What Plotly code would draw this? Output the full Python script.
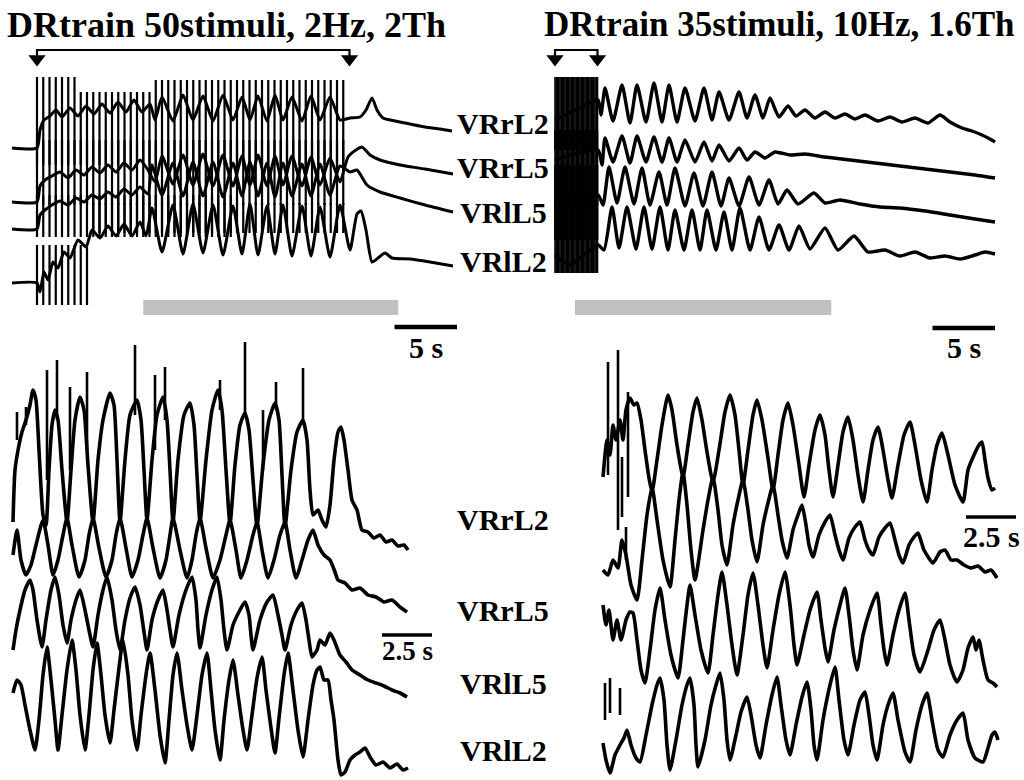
import plotly.graph_objects as go

# ---------------------------------------------------------------------------
# Ventral-root recordings: (time [s], amplitude [a.u.]) pairs.
# Amplitudes are relative to each trace's own resting level.
# ---------------------------------------------------------------------------

# Train 1: 50 stimuli at 2 Hz (overview)
tl_rl2 = [(-2.0, 0), (0.0, 0), (0.24, 18), (0.56, 28), (1.04, 32), (1.52, 38), (2.0, 31), (2.64, 40),
          (3.28, 32), (3.92, 42), (4.56, 34), (5.2, 44), (5.84, 35), (6.48, 46), (7.12, 36), (7.76, 48),
          (8.4, 36), (9.04, 44), (9.44, 28), (10.0, 51), (10.88, 27), (11.68, 53), (12.48, 28), (13.28, 52),
          (14.08, 27), (14.88, 53), (15.68, 28), (16.4, 51), (17.04, 28), (17.68, 52), (18.4, 27), (19.04, 53),
          (19.68, 28), (20.4, 51), (21.2, 27), (21.92, 52), (22.64, 28), (23.44, 51), (24.24, 28), (25.04, 30),
          (25.84, 31), (26.32, 38), (26.8, 50), (27.2, 38), (27.68, 30), (28.64, 27), (29.84, 24), (31.04, 21),
          (32.24, 19), (33.2, 17)]
tl_rl5 = [(-2.0, 0), (0.0, 0), (0.24, 16), (0.64, 22), (1.2, 26), (1.84, 30), (2.48, 24), (3.12, 32),
          (3.76, 27), (4.4, 35), (5.04, 29), (5.68, 37), (6.32, 30), (6.96, 39), (7.6, 32), (8.24, 42),
          (8.88, 32), (9.44, 20), (10.0, 46), (10.88, 18), (11.68, 47), (12.48, 17), (13.28, 48), (14.08, 16),
          (14.88, 47), (15.68, 16), (16.4, 46), (17.04, 17), (17.68, 47), (18.4, 16), (19.04, 46), (19.68, 17),
          (20.4, 46), (21.2, 16), (21.92, 45), (22.64, 17), (23.44, 44), (24.24, 20), (24.88, 45), (25.52, 52),
          (26.0, 55), (26.64, 47), (27.44, 42), (29.04, 37), (31.04, 33), (33.28, 28)]
tl_ll5 = [(-2.0, 0), (0.0, 0), (0.24, 14), (0.64, 19), (1.2, 24), (1.84, 28), (2.48, 24), (3.12, 31),
          (3.76, 27), (4.4, 34), (5.04, 30), (5.68, 37), (6.32, 32), (6.96, 40), (7.6, 34), (8.24, 42),
          (8.88, 35), (9.2, 64), (10.0, 34), (10.88, 66), (11.68, 33), (12.48, 67), (13.28, 33), (14.08, 67),
          (14.88, 32), (15.68, 66), (16.4, 33), (17.04, 67), (17.68, 33), (18.4, 66), (19.04, 32), (19.68, 66),
          (20.4, 33), (21.2, 65), (21.92, 33), (22.64, 65), (23.44, 34), (24.24, 63), (25.04, 57), (25.6, 59),
          (26.4, 44), (27.44, 37), (29.04, 31), (31.04, 24), (33.28, 17)]
tl_ll2 = [(-2.0, 0), (0.0, 0), (0.24, -9), (0.56, 11), (0.88, 3), (1.28, 21), (1.68, 15), (2.16, 31),
          (2.64, 25), (3.28, 43), (3.92, 36), (4.4, 53), (5.04, 45), (5.68, 57), (6.32, 47), (6.96, 59),
          (7.6, 47), (8.24, 61), (8.72, 47), (9.2, 75), (10.0, 31), (10.88, 78), (11.68, 29), (12.48, 79),
          (13.28, 30), (14.08, 78), (14.88, 28), (15.68, 77), (16.4, 29), (17.04, 79), (17.68, 28), (18.4, 77),
          (19.04, 29), (19.68, 78), (20.4, 27), (21.2, 77), (21.92, 27), (22.64, 76), (23.44, 26), (24.24, 78),
          (25.04, 33), (25.6, 69), (25.92, 72), (26.32, 53), (26.8, 21), (27.28, 25), (27.84, 30), (28.4, 25),
          (29.84, 24), (31.44, 21), (33.28, 17)]

# Train 2: 35 stimuli at 10 Hz (overview)
tr_rl2 = [(0.0, 0), (1.6, 10), (3.44, 20), (3.68, 5), (4.0, 32), (4.64, -1), (5.36, 35), (6.0, -3),
          (6.56, 35), (7.28, -2), (7.92, 37), (8.56, -2), (9.12, 35), (9.76, -2), (10.4, 32), (11.2, -1),
          (11.92, 32), (12.56, 0), (13.12, 28), (13.92, 0), (14.72, 28), (15.36, 2), (16.0, 25), (16.64, 2),
          (17.2, 22), (17.92, 3), (18.64, 14), (19.28, 4), (20.0, 10), (20.8, 2), (21.6, 8), (22.4, 2),
          (23.2, 6), (24.0, 1), (24.8, 5), (25.84, -1), (26.8, 3), (27.76, -2), (28.8, 2), (29.84, -3),
          (30.8, 5), (31.6, -2), (32.56, -8), (33.36, -11), (34.16, -15), (34.8, -19), (35.2, -22)]
tr_rl5 = [(0.0, 0), (3.44, 10), (3.76, -5), (4.0, 22), (4.64, -2), (5.36, 24), (6.0, -3), (6.56, 24),
          (7.28, -2), (7.92, 23), (8.56, -2), (9.12, 22), (9.76, -2), (10.4, 20), (11.2, -2), (11.92, 18),
          (12.56, -1), (13.12, 15), (13.92, -1), (14.72, 12), (15.36, 0), (16.0, 8), (16.8, 2), (17.6, 8),
          (18.8, 5), (20.0, 6), (21.6, 3), (23.6, 0), (25.6, -3), (27.6, -6), (29.6, -9), (31.6, -12),
          (33.6, -15), (35.2, -18)]
tr_ll5 = [(0.0, 0), (3.44, 5), (3.84, -5), (4.32, 33), (4.96, -3), (5.6, 33), (6.32, -4), (6.96, 32),
          (7.6, -5), (8.32, 28), (8.96, -5), (9.6, 32), (10.4, -6), (11.12, 27), (11.84, -6), (12.56, 28),
          (13.28, -6), (13.92, 22), (14.72, -6), (15.52, 23), (16.32, -5), (17.12, 20), (17.84, -4),
          (18.56, 10), (19.44, -4), (20.72, 7), (21.6, -3), (22.8, 0), (24.4, -4), (26.0, -7), (27.6, -8),
          (29.6, -11), (31.6, -15), (33.6, -19), (35.2, -22)]
tr_ll2 = [(0.0, 0), (1.2, -10), (3.44, 10), (3.92, 5), (4.56, 48), (5.12, 7), (5.76, 48), (6.48, 6),
          (7.12, 48), (7.76, 6), (8.4, 48), (9.04, 5), (9.6, 45), (10.32, 5), (10.96, 45), (11.6, 5),
          (12.16, 45), (12.88, 5), (13.52, 43), (14.16, 5), (14.8, 47), (15.6, 5), (16.32, 38), (17.12, 5),
          (17.92, 30), (18.72, 5), (19.52, 29), (20.4, 6), (21.6, 27), (22.64, 5), (23.92, 19), (25.04, 3),
          (26.4, 5), (27.6, -1), (28.8, 3), (30.0, -3), (31.2, -1), (32.4, -4), (33.6, 0), (34.4, 3), (35.2, 1)]

# Train 1, expanded window
bl_rl2 = [(0.05, -2), (0.15, 50), (0.35, 75), (0.5, 88), (0.7, 100), (0.9, 115), (1.05, 130), (1.2, 120),
          (1.35, 70), (1.55, 5), (1.7, -5), (1.85, 50), (2.0, 95), (2.15, 110), (2.3, 100), (2.5, 50),
          (2.75, -2), (2.95, 50), (3.15, 100), (3.4, 123), (3.6, 110), (3.8, 55), (4.05, -2), (4.3, 60),
          (4.55, 100), (4.9, 127), (5.1, 115), (5.25, 60), (5.4, -2), (5.65, 60), (5.9, 105), (6.25, 120),
          (6.45, 100), (6.6, 50), (6.75, 0), (7.0, 60), (7.25, 105), (7.55, 123), (7.75, 100), (7.9, 50),
          (8.05, -2), (8.3, 60), (8.6, 105), (8.9, 117), (9.1, 95), (9.25, 45), (9.4, -2), (9.7, 60),
          (10.0, 110), (10.3, 130), (10.5, 110), (10.7, 50), (10.9, -4), (11.15, 55), (11.4, 95), (11.65, 107),
          (11.85, 90), (12.05, 40), (12.25, -6), (12.55, 55), (12.85, 100), (13.15, 117), (13.35, 100),
          (13.5, 45), (13.65, -7), (13.95, 50), (14.25, 88), (14.55, 100), (14.75, 80), (14.9, 30), (15.05, 5),
          (15.3, 10), (15.5, 0), (15.7, -7), (15.9, 15), (16.1, 60), (16.3, 88), (16.45, 93), (16.6, 80),
          (16.8, 50), (17.0, 20), (17.25, 10), (17.5, -10), (17.8, -12), (18.1, -18), (18.4, -15), (18.7, -22),
          (19.0, -20), (19.3, -26), (19.6, -25), (19.8, -30)]
bl_rl5 = [(0.05, 5), (0.25, 30), (0.45, 0), (0.7, -15), (0.95, -5), (1.2, 15), (1.55, 40), (1.8, 15),
          (2.05, -15), (2.3, 0), (2.55, 25), (2.75, 42), (3.0, 15), (3.35, -17), (3.65, 0), (3.85, 25),
          (4.05, 42), (4.35, 12), (4.7, -17), (5.0, 0), (5.2, 25), (5.4, 42), (5.7, 12), (6.0, -17), (6.3, 0),
          (6.55, 25), (6.75, 42), (7.05, 12), (7.4, -18), (7.7, 0), (7.9, 25), (8.05, 42), (8.4, 10),
          (8.75, -18), (9.0, 0), (9.2, 25), (9.4, 42), (9.7, 12), (10.05, -18), (10.4, 0), (10.7, 25),
          (10.9, 40), (11.2, 10), (11.45, -18), (11.75, 0), (12.05, 25), (12.25, 38), (12.5, 10), (12.8, -18),
          (13.1, 0), (13.4, 25), (13.65, 38), (13.9, 10), (14.2, -18), (14.5, 0), (14.8, 20), (15.05, 30),
          (15.3, 15), (15.6, 5), (15.9, 0), (16.15, -12), (16.3, -20), (16.65, -23), (17.0, -30), (17.4, -28),
          (17.8, -35), (18.2, -37), (18.6, -42), (19.0, -40), (19.4, -47), (19.75, -52)]
bl_ll5 = [(0.05, 0), (0.2, 20), (0.4, 40), (0.65, 60), (0.9, 70), (1.05, 60), (1.25, 30), (1.5, 3),
          (1.7, 30), (1.95, 60), (2.15, 73), (2.35, 55), (2.55, 25), (2.75, 7), (2.95, 30), (3.2, 50),
          (3.4, 60), (3.65, 40), (3.85, 20), (4.05, 3), (4.3, 35), (4.55, 60), (4.75, 73), (5.0, 50), (5.2, 20),
          (5.4, 0), (5.65, 30), (5.9, 52), (6.15, 63), (6.4, 45), (6.6, 18), (6.75, 0), (7.0, 30), (7.3, 50),
          (7.55, 60), (7.75, 40), (7.9, 20), (8.05, 3), (8.35, 35), (8.7, 60), (9.0, 73), (9.2, 50), (9.3, 20),
          (9.4, 2), (9.7, 35), (10.0, 60), (10.25, 73), (10.45, 50), (10.6, 20), (10.75, 0), (11.05, 25),
          (11.4, 40), (11.65, 48), (11.85, 35), (11.95, 15), (12.05, 0), (12.4, 30), (12.75, 48), (13.05, 55),
          (13.3, 35), (13.5, 15), (13.65, 0), (13.95, 25), (14.25, 40), (14.5, 47), (14.7, 30), (14.85, 10),
          (15.0, -7), (15.25, 0), (15.4, 10), (15.65, 5), (15.9, 17), (16.1, 10), (16.4, -5), (16.7, -12),
          (17.0, -20), (17.4, -25), (17.8, -30), (18.2, -33), (18.6, -36), (19.0, -40), (19.4, -43),
          (19.75, -47)]
bl_ll2 = [(0.05, 0), (0.25, 13), (0.45, 8), (0.65, -12), (0.9, -37), (1.15, -57), (1.35, -27), (1.55, 18),
          (1.75, 46), (1.95, 13), (2.15, -27), (2.3, -57), (2.5, -22), (2.75, 23), (3.0, 53), (3.2, 23),
          (3.4, -22), (3.65, -57), (3.85, -22), (4.05, 23), (4.25, 50), (4.45, 18), (4.65, -22), (4.9, -50),
          (5.1, -17), (5.35, 25), (5.55, 53), (5.8, 18), (6.0, -27), (6.25, -57), (6.45, -22), (6.7, 18),
          (6.9, 40), (7.15, 3), (7.4, -42), (7.65, -70), (7.85, -27), (8.05, 18), (8.25, 40), (8.5, 3),
          (8.75, -32), (9.0, -57), (9.25, -22), (9.5, 18), (9.75, 40), (9.95, 3), (10.15, -37), (10.4, -67),
          (10.6, -27), (10.85, 13), (11.05, 33), (11.3, -2), (11.55, -37), (11.75, -57), (12.0, -22),
          (12.25, 15), (12.5, 36), (12.7, 3), (12.95, -35), (13.15, -60), (13.35, -25), (13.6, 18), (13.8, 40),
          (14.05, 3), (14.3, -37), (14.55, -64), (14.8, -27), (15.05, 8), (15.25, 23), (15.4, 26), (15.6, 13),
          (15.8, 13), (15.95, -7), (16.1, -27), (16.3, -67), (16.45, -82), (16.65, -79), (16.9, -67),
          (17.15, -62), (17.4, -59), (17.65, -55), (17.9, -64), (18.2, -72), (18.55, -69), (18.9, -75),
          (19.25, -71), (19.55, -77), (19.8, -75)]

# Train 2, expanded window
br_rl2 = [(0.0, 0), (0.1, 22), (0.2, 37), (0.35, 22), (0.5, 52), (0.65, 37), (0.85, 57), (1.0, 37),
          (1.15, 67), (1.35, 79), (1.55, 72), (1.7, 74), (1.9, 57), (2.1, 27), (2.3, -1), (2.45, -15),
          (2.7, 17), (2.95, 52), (3.25, 82), (3.45, 67), (3.7, 32), (4.0, 0), (4.25, 32), (4.5, 65), (4.7, 79),
          (4.95, 57), (5.2, 25), (5.5, -5), (5.8, 27), (6.1, 65), (6.35, 82), (6.6, 62), (6.8, 27), (7.0, -8),
          (7.25, 27), (7.5, 62), (7.7, 77), (7.95, 57), (8.25, 19), (8.5, -13), (8.75, 22), (9.0, 57),
          (9.25, 74), (9.5, 52), (9.8, 12), (10.05, -20), (10.3, 12), (10.6, 47), (10.85, 62), (11.1, 42),
          (11.3, 7), (11.5, -20), (11.75, 12), (12.0, 45), (12.25, 60), (12.5, 37), (12.75, 2), (13.0, -25),
          (13.25, 7), (13.5, 37), (13.75, 50), (14.0, 27), (14.25, -3), (14.45, -21), (14.75, 12), (15.05, 42),
          (15.35, 55), (15.6, 32), (15.9, -3), (16.2, -25), (16.45, 7), (16.7, 32), (16.95, 44), (17.25, 22),
          (17.6, -8), (18.0, -25), (18.25, 7), (18.55, 22), (18.8, 32), (18.95, 35), (19.1, 17), (19.25, -1),
          (19.45, -13), (19.6, -11)]
br_rl5 = [(0.0, 0), (0.25, -5), (0.5, 10), (0.75, 2), (0.95, 30), (1.15, 15), (1.4, -15), (1.7, -30),
          (1.95, 10), (2.2, 55), (2.45, 83), (2.7, 50), (3.0, 10), (3.35, -17), (3.6, 30), (3.8, 70), (4.0, 98),
          (4.2, 65), (4.4, 20), (4.6, -10), (5.0, 40), (5.25, 70), (5.5, 93), (5.75, 60), (5.95, 25), (6.2, 5),
          (6.5, 45), (6.75, 70), (7.0, 90), (7.25, 60), (7.45, 30), (7.7, 8), (8.0, 45), (8.25, 67), (8.5, 85),
          (8.75, 55), (8.95, 30), (9.2, 12), (9.5, 40), (9.75, 55), (9.95, 65), (10.15, 45), (10.3, 25),
          (10.5, 13), (10.8, 35), (11.1, 48), (11.35, 55), (11.6, 35), (11.8, 20), (12.0, 10), (12.3, 32),
          (12.6, 43), (12.85, 48), (13.1, 30), (13.3, 20), (13.5, 15), (13.8, 33), (14.1, 42), (14.35, 47),
          (14.6, 30), (14.8, 15), (15.0, 7), (15.3, 25), (15.55, 33), (15.75, 37), (16.05, 20), (16.5, 7),
          (16.85, 18), (17.1, 20), (17.4, 10), (17.7, 10), (18.05, 5), (18.4, 2), (18.75, 4), (19.1, -2),
          (19.4, 0), (19.7, -8)]
br_ll5 = [(0.0, 0), (0.15, -20), (0.3, -5), (0.5, -35), (0.7, -15), (0.9, -35), (1.15, -15), (1.35, -7),
          (1.5, -8), (1.7, -35), (1.9, -65), (2.1, -78), (2.35, -45), (2.6, -5), (2.85, 17), (3.1, -15),
          (3.4, -50), (3.75, -73), (4.0, -35), (4.2, 0), (4.35, 20), (4.6, -10), (4.9, -45), (5.25, -68),
          (5.5, -30), (5.75, 10), (5.95, 33), (6.2, 0), (6.45, -40), (6.7, -70), (7.0, -30), (7.25, 10),
          (7.5, 32), (7.75, 0), (8.0, -40), (8.2, -63), (8.5, -25), (8.8, 10), (9.1, 33), (9.35, 0), (9.55, -40),
          (9.7, -60), (10.05, -30), (10.35, -5), (10.7, 13), (10.9, -15), (11.1, -43), (11.25, -57),
          (11.55, -25), (11.85, 0), (12.1, 17), (12.3, -10), (12.5, -45), (12.7, -65), (13.0, -30), (13.35, -5),
          (13.7, 12), (13.9, -20), (14.05, -45), (14.2, -60), (14.5, -30), (14.8, -5), (15.1, 12), (15.3, -15),
          (15.55, -50), (15.85, -67), (16.25, -45), (16.55, -25), (16.85, -15), (17.1, -35), (17.35, -60),
          (17.7, -77), (18.0, -65), (18.25, -43), (18.5, -32), (18.65, -45), (18.8, -35), (19.0, -55),
          (19.25, -75), (19.5, -78), (19.7, -82)]
br_ll2 = [(0.0, 0), (0.15, -17), (0.35, -30), (0.6, -12), (0.85, -2), (1.05, 5), (1.2, 13), (1.4, -2),
          (1.65, -15), (1.85, -19), (2.15, 8), (2.45, 38), (2.7, 58), (2.85, 65), (3.05, 43), (3.2, -2),
          (3.35, -27), (3.65, 3), (3.95, 38), (4.2, 58), (4.35, 65), (4.55, 38), (4.65, -2), (4.75, -24),
          (5.1, 3), (5.4, 38), (5.65, 58), (5.85, 70), (6.05, 43), (6.2, 3), (6.35, -17), (6.65, 8), (6.9, 31),
          (7.2, 46), (7.4, 28), (7.65, -2), (7.85, -15), (8.15, 18), (8.45, 48), (8.7, 66), (8.9, 38), (9.15, 3),
          (9.35, -12), (9.65, 18), (9.95, 46), (10.2, 61), (10.4, 33), (10.55, -2), (10.7, -17), (11.0, 23),
          (11.35, 58), (11.6, 76), (11.8, 43), (12.05, 3), (12.25, -12), (12.55, 18), (12.85, 43), (13.1, 51),
          (13.3, 28), (13.5, -2), (13.7, -17), (14.0, 18), (14.25, 38), (14.5, 50), (14.75, 23), (15.1, -9),
          (15.35, -19), (15.65, 13), (15.95, 38), (16.2, 50), (16.45, 23), (16.75, -7), (17.0, -14), (17.35, 8),
          (17.7, 23), (18.0, 30), (18.25, 3), (18.6, -15), (19.0, -19), (19.25, -5), (19.45, 8), (19.6, 11),
          (19.75, 3)]

# Fast transients: (time s, low, high)
bl_rl2_spikes = [(0.25, 80, 108), (0.7, 95, 113), (1.75, 40, 150), (2.25, 100, 160), (2.9, 50, 133),
                 (3.75, 70, 148), (6.15, 105, 175), (7.15, 70, 145), (7.65, 100, 153), (10.4, 110, 140),
                 (11.65, 105, 178), (12.55, 50, 110), (13.2, 110, 138), (14.55, 95, 152)]
br_rl2_spikes = [(0.25, 2, 115), (0.75, -53, 127), (0.95, -40, 20), (1.25, -20, 85)]
br_rl5_spikes = [(1.15, 10, 43)]
br_ll2_spikes = [(0.1, 23, 60), (0.35, 30, 65), (0.85, 28, 55)]

# Stimulus trains (count, rate) and artifact extents per trace:
# rows of (first stimulus, last stimulus, upper, lower) in a.u. from the resting level
train1_count, train1_hz = 50, 2.0
train2_count, train2_hz = 35, 10.0
tl_rl2_artifacts = [(0, 6, 71, -17), (7, 18, 56, -17), (19, 49, 68, -17)]
tl_rl5_artifacts = [(0, 49, 62, -3)]
tl_ll5_artifacts = [(0, 31, 34, -8)]
tl_ll2_artifacts = [(0, 8, 38, -22), (9, 49, 80, 50)]
tr_rl2_artifacts = [(0, 34, 43, -30)]
tr_rl5_artifacts = [(0, 34, 30, -45)]
tr_ll5_artifacts = [(0, 34, 35, -40)]
tr_ll2_artifacts = [(0, 34, 55, -18)]

# Expanded windows (s, on the overview time base) and scale bars (s)
train1_window = (8.5, 28.9)
train2_window = (1.6, 22.1)
overview_scale_s = 5.0
expanded_scale_s = 2.5

channel_names = ["VRrL2", "VRrL5", "VRlL5", "VRlL2"]
title_train1 = "DRtrain 50stimuli, 2Hz, 2Th"
title_train2 = "DRtrain 35stimuli, 10Hz, 1.6Th"

# ---------------------------------------------------------------------------
# Layout
# ---------------------------------------------------------------------------
W, H = 1024, 780
FONT = "Liberation Serif, 'Times New Roman', Times, serif"
INK = "#000000"
BAR_GRAY = "#c0c0c0"

# panel calibration: time-zero column (px), px per second, level reference row (px)
PANELS = {
    "tl": dict(x0=37, pps=12.5, ref=300, xa="x", ya="y"),
    "tr": dict(x0=555, pps=12.5, ref=300, xa="x2", ya="y2"),
    "bl": dict(x0=12, pps=20.0, ref=780, xa="x3", ya="y3"),
    "br": dict(x0=603, pps=20.0, ref=780, xa="x4", ya="y4"),
}
# resting level of each channel (row, px from top)
LEVELS = {
    "tl": [148, 202, 229, 283],
    "tr": [120, 160, 200, 255],
    "bl": [520, 560, 650, 693],
    "br": [477, 570, 605, 743],
}

fig = go.Figure()


def offset(panel, idx):
    return PANELS[panel]["ref"] - LEVELS[panel][idx]


def add_line(panel, xs, ys, width, color=INK, shape="linear", **kw):
    p = PANELS[panel]
    line = dict(color=color, width=width, shape=shape)
    if shape == "spline":
        line["smoothing"] = 0.55
    fig.add_trace(go.Scatter(x=xs, y=ys, mode="lines", line=line,
                             xaxis=p["xa"], yaxis=p["ya"], hoverinfo="skip", showlegend=False,
                             cliponaxis=False, **kw))


def add_recording(panel, idx, pairs, width):
    off = offset(panel, idx)
    add_line(panel, [t for t, _ in pairs], [v + off for _, v in pairs], width, shape="spline")


def add_segments(panel, idx, segs, width):
    off = offset(panel, idx)
    xs, ys = [], []
    for t, lo, hi in segs:
        xs += [t, t, None]
        ys += [lo + off, hi + off, None]
    add_line(panel, xs, ys, width)


def add_artifacts(panel, idx, rows, rate, width):
    segs = []
    for k0, k1, up, lo in rows:
        for k in range(k0, k1 + 1):
            segs.append((k / rate, lo, up))
    add_segments(panel, idx, segs, width)


# gray bars marking the expanded windows (drawn first, beneath everything)
for panel, win in (("tl", train1_window), ("tr", train2_window)):
    ref = PANELS[panel]["ref"]
    add_line(panel, list(win), [ref - 307.5, ref - 307.5], 15, color=BAR_GRAY)

# stimulus artifacts, then recordings on top
for i, rows in enumerate([tl_rl2_artifacts, tl_rl5_artifacts, tl_ll5_artifacts, tl_ll2_artifacts]):
    add_artifacts("tl", i, rows, train1_hz, 2.2)
for i, rows in enumerate([tr_rl2_artifacts, tr_rl5_artifacts, tr_ll5_artifacts, tr_ll2_artifacts]):
    add_artifacts("tr", i, rows, train2_hz, 1.6)

for i, rec in enumerate([tl_rl2, tl_rl5, tl_ll5, tl_ll2]):
    add_recording("tl", i, rec, 3.0)
for i, rec in enumerate([tr_rl2, tr_rl5, tr_ll5, tr_ll2]):
    add_recording("tr", i, rec, 3.4)
for i, rec in enumerate([bl_rl2, bl_rl5, bl_ll5, bl_ll2]):
    add_recording("bl", i, rec, 3.6)
for i, rec in enumerate([br_rl2, br_rl5, br_ll5, br_ll2]):
    add_recording("br", i, rec, 3.6)

add_segments("bl", 0, bl_rl2_spikes, 2.6)
add_segments("br", 0, br_rl2_spikes, 2.6)
add_segments("br", 1, br_rl5_spikes, 2.6)
add_segments("br", 3, br_ll2_spikes, 2.6)


# stimulation brackets with arrowheads
def bracket(panel, t_end):
    ref = PANELS[panel]["ref"]
    top, foot = ref - 50, ref - 56
    add_line(panel, [0, 0, t_end, t_end], [foot, top, top, foot], 2.2)
    p = PANELS[panel]
    fig.add_trace(go.Scatter(x=[0, t_end], y=[ref - 59, ref - 59], mode="markers",
                             marker=dict(symbol="triangle-down", size=15, color=INK),
                             xaxis=p["xa"], yaxis=p["ya"], hoverinfo="skip", showlegend=False,
                             cliponaxis=False))


bracket("tl", train1_count / train1_hz)
bracket("tr", (train2_count - 1) / train2_hz)


# time scale bars
def scale_bar(panel, t0, length, row, width, label, label_row, size):
    ref = PANELS[panel]["ref"]
    add_line(panel, [t0, t0 + length], [ref - row, ref - row], width)
    p = PANELS[panel]
    fig.add_annotation(x=t0 + length / 2, y=ref - label_row, xref=p["xa"], yref=p["ya"],
                       text="<b>%s</b>" % label, showarrow=False,
                       font=dict(family=FONT, size=size, color=INK), xanchor="center", yanchor="middle")


scale_bar("tl", 28.6, overview_scale_s, 327, 4.5, "5 s", 347, 30)
scale_bar("tr", 30.2, overview_scale_s, 328, 4.5, "5 s", 347, 30)
scale_bar("bl", 18.5, expanded_scale_s, 635, 3.5, "2.5 s", 651, 27)
scale_bar("br", 18.15, expanded_scale_s, 517, 3.5, "2.5 s", 536, 30)

# titles
for x_px, text, size in ((5, title_train1, 36), (542, title_train2, 35)):
    fig.add_annotation(x=x_px / W, y=1 - 25 / H, xref="paper", yref="paper", text="<b>%s</b>" % text,
                       showarrow=False, xanchor="left", yanchor="middle",
                       font=dict(family=FONT, size=size, color=INK))

# channel labels
for rows in ([123, 167, 213, 262], [519, 610, 683, 750]):
    for name, row in zip(channel_names, rows):
        fig.add_annotation(x=503 / W, y=1 - row / H, xref="paper", yref="paper", text="<b>%s</b>" % name,
                           showarrow=False, xanchor="center", yanchor="middle",
                           font=dict(family=FONT, size=30, color=INK))

# one invisible axis pair per panel, each spanning the whole canvas
axes = {}
for key, p in PANELS.items():
    xname = "xaxis" + p["xa"][1:]
    yname = "yaxis" + p["ya"][1:]
    axes[xname] = dict(domain=[0, 1], range=[-p["x0"] / p["pps"], (W - p["x0"]) / p["pps"]],
                       visible=False, fixedrange=True, anchor=p["ya"])
    axes[yname] = dict(domain=[0, 1], range=[p["ref"] - H, p["ref"]],
                       visible=False, fixedrange=True, anchor=p["xa"])

fig.update_layout(width=W, height=H, autosize=False, margin=dict(l=0, r=0, t=0, b=0, pad=0),
                  paper_bgcolor="white", plot_bgcolor="rgba(0,0,0,0)", showlegend=False, **axes)

fig.write_html("out.html", config={"displayModeBar": False})
